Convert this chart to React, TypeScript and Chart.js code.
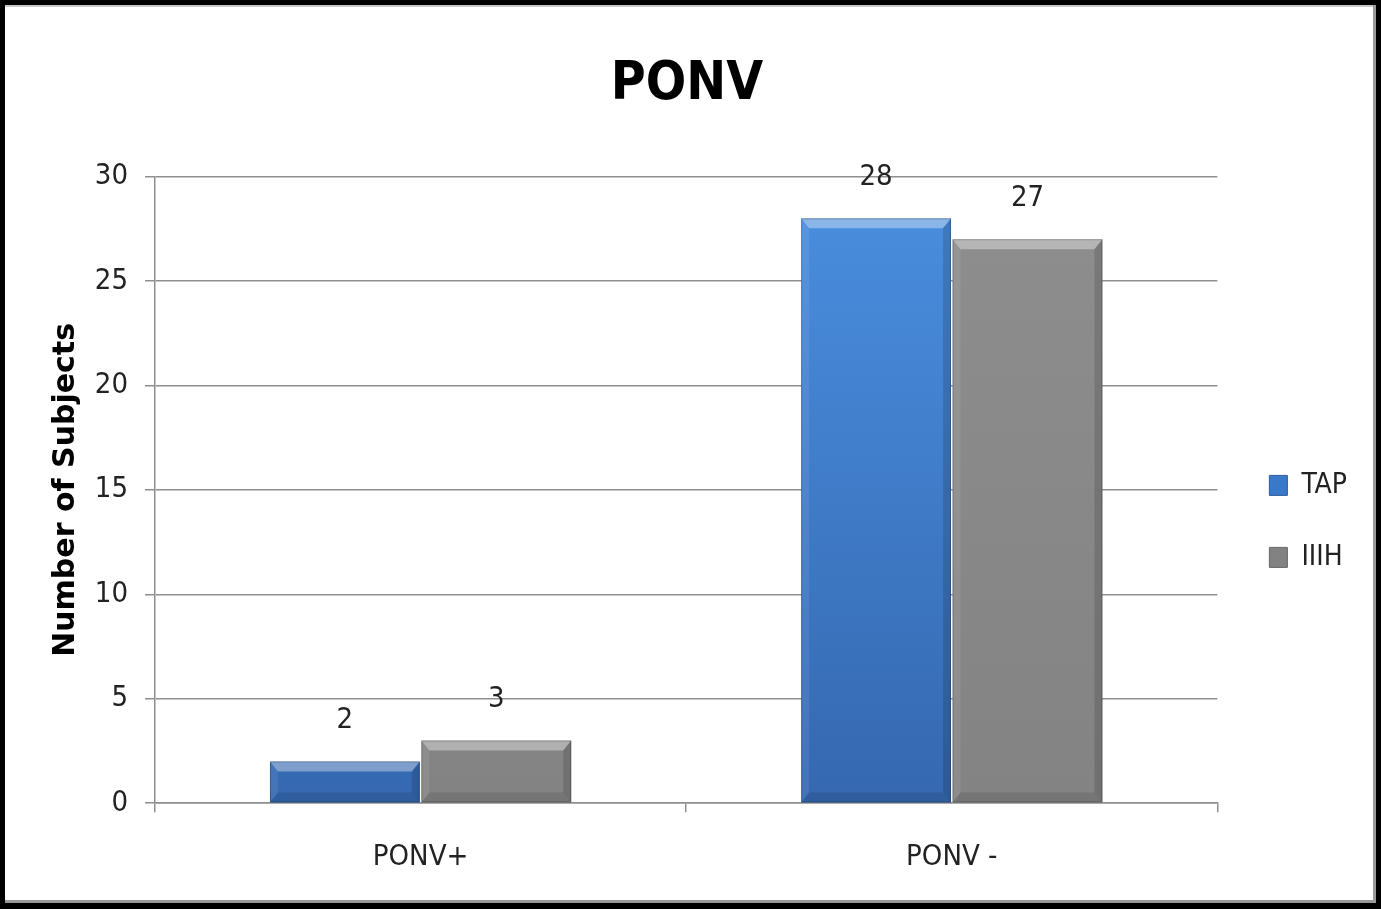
import React, { useEffect, useRef } from "react";
import { Chart, registerables } from "chart.js";

Chart.register(...registerables);

const categories = ["PONV+", "PONV -"];
const tapValues = [2, 28];
const iiihValues = [3, 27];
const seriesNames = ["TAP", "IIIH"];
const yTicks = [0, 5, 10, 15, 20, 25, 30];

const NARROW = '"Liberation Sans Narrow", "DejaVu Sans Condensed", "Liberation Sans", sans-serif';
const GRID = "#8f8f8f";

function faceGradient(top: string, bottom: string, fallback: string) {
  return (ctx: any) => {
    const area = ctx.chart.chartArea;
    if (!area) return fallback;
    const g = ctx.chart.ctx.createLinearGradient(0, area.top, 0, area.bottom);
    g.addColorStop(0, top);
    g.addColorStop(1, bottom);
    return g;
  };
}

// Bevelled edges on every bar, drawn over the bar elements the chart laid out
const bevelPlugin = {
  id: "bevel",
  afterDatasetsDraw(chart: any) {
    const ctx = chart.ctx;
    chart.data.datasets.forEach((_: any, di: number) => {
      const meta = chart.getDatasetMeta(di);
      meta.data.forEach((bar: any) => {
        const { x, y, base, width } = bar.getProps(["x", "y", "base", "width"], true);
        const l = x - width / 2;
        const r = x + width / 2;
        const t = Math.min(y, base);
        const bot = Math.max(y, base);
        const h = bot - t;
        const b = Math.min(8, width / 4);
        const tb = Math.min(10, h / 3);
        const poly = (pts: number[][], fill: string) => {
          ctx.beginPath();
          ctx.moveTo(pts[0][0], pts[0][1]);
          for (let i = 1; i < pts.length; i++) ctx.lineTo(pts[i][0], pts[i][1]);
          ctx.closePath();
          ctx.fillStyle = fill;
          ctx.fill();
        };
        ctx.save();
        poly([[l, t], [r, t], [r - b, t + tb], [l + b, t + tb]], "rgba(255,255,255,0.36)");
        poly([[l, t], [l + b, t + tb], [l + b, bot - tb], [l, bot]], "rgba(255,255,255,0.08)");
        poly([[r, t], [r, bot], [r - b, bot - tb], [r - b, t + tb]], "rgba(0,0,0,0.14)");
        poly([[l, bot], [l + b, bot - tb], [r - b, bot - tb], [r, bot]], "rgba(0,0,0,0.10)");
        ctx.strokeStyle = "rgba(0,0,0,0.22)";
        ctx.lineWidth = 1;
        ctx.strokeRect(l + 0.5, t + 0.5, width - 1, h - 1);
        ctx.restore();
      });
    });
  },
};

// Value labels above each bar
const valueLabelPlugin = {
  id: "valueLabels",
  afterDatasetsDraw(chart: any) {
    const ctx = chart.ctx;
    ctx.save();
    ctx.font = `29px ${NARROW}`;
    ctx.fillStyle = "#222";
    ctx.textAlign = "center";
    ctx.textBaseline = "middle";
    chart.data.datasets.forEach((ds: any, di: number) => {
      const meta = chart.getDatasetMeta(di);
      meta.data.forEach((bar: any, i: number) => {
        const { x, y } = bar.getProps(["x", "y"], true);
        ctx.fillText(String(ds.data[i]), x, y - 41);
      });
    });
    ctx.restore();
  },
};

// Nudge the legend column a little further from the plot
const legendShiftPlugin = {
  id: "legendShift",
  afterLayout(chart: any) {
    const lg = chart.legend;
    if (lg) {
      lg.left += 8;
      lg.right += 8;
    }
  },
};

export default function App() {
  const canvasRef = useRef<HTMLCanvasElement | null>(null);

  useEffect(() => {
    if (!canvasRef.current) return;
    const chart = new Chart(canvasRef.current, {
      type: "bar",
      data: {
        labels: categories,
        datasets: [
          {
            label: seriesNames[0],
            data: tapValues,
            backgroundColor: faceGradient("#4a8fe0", "#3568b0", "#3d7cc9"),
            borderWidth: 0,
            barPercentage: 0.99,
            categoryPercentage: 0.57,
          },
          {
            label: seriesNames[1],
            data: iiihValues,
            backgroundColor: faceGradient("#8e8e8e", "#838383", "#888888"),
            borderWidth: 0,
            barPercentage: 0.99,
            categoryPercentage: 0.57,
          },
        ],
      },
      options: {
        responsive: false,
        animation: false,
        layout: { padding: { left: 20, right: 27, top: 0, bottom: 0 } },
        plugins: {
          title: {
            display: true,
            text: "PONV",
            color: "#000",
            font: { family: NARROW, size: 53, weight: "bold", lineHeight: 1.2 },
            padding: { top: 48, bottom: 60 },
          },
          legend: {
            display: true,
            position: "right",
            align: "center",
            fullSize: false,
            title: { display: true, text: "", font: { size: 10, lineHeight: 1.2 }, padding: { top: 51, bottom: 0 } },
            labels: {
              boxWidth: 18,
              boxHeight: 20,
              padding: 44,
              color: "#222",
              font: { family: NARROW, size: 28 },
              generateLabels: (c: any) =>
                c.data.datasets.map((ds: any, i: number) => ({
                  text: ds.label,
                  fillStyle: i === 0 ? "#3a78c8" : "#828282",
                  strokeStyle: i === 0 ? "#2c5e9e" : "#666666",
                  fontColor: "#222",
                  lineWidth: 1,
                  hidden: false,
                  datasetIndex: i,
                })),
            },
          },
          tooltip: { enabled: false },
        },
        scales: {
          x: {
            offset: true,
            grid: {
              display: true,
              drawOnChartArea: false,
              drawTicks: true,
              tickLength: 9,
              color: GRID,
              lineWidth: 1.5,
              offset: true,
            },
            border: { display: true, color: GRID, width: 1.5 },
            ticks: { color: "#222", font: { family: NARROW, size: 29 }, padding: 28 },
          },
          y: {
            min: 0,
            max: 30,
            afterFit: (scale: any) => {
              scale.width = 130;
            },
            afterBuildTicks: (scale: any) => {
              scale.ticks = yTicks.map((v) => ({ value: v }));
            },
            grid: { color: GRID, lineWidth: 1.5, tickLength: 10, drawTicks: true },
            border: { display: true, color: GRID, width: 1.5 },
            ticks: { color: "#222", font: { family: NARROW, size: 29 }, padding: 17 },
            title: {
              display: true,
              text: "Number of Subjects",
              color: "#000",
              font: { family: '"DejaVu Sans", Verdana, sans-serif', size: 30, weight: "bold", lineHeight: 1.2 },
              padding: { top: 23, bottom: 0 },
            },
          },
        },
      },
      plugins: [bevelPlugin, valueLabelPlugin, legendShiftPlugin],
    } as any);
    return () => chart.destroy();
  }, []);

  return (
    <div
      style={{
        position: "absolute",
        left: 0,
        top: 0,
        width: 1381,
        height: 909,
        boxSizing: "border-box",
        border: "5px solid #000",
        borderBottomWidth: 6,
        background: "#fff",
      }}
    >
      <div
        style={{
          position: "relative",
          width: 1371,
          height: 898,
          boxShadow: "inset -3px -3px 0 0 #9a9a9a, inset 0 2px 0 0 #c8c8c8",
        }}
      >
        <canvas ref={canvasRef} width={1371} height={898} />
      </div>
    </div>
  );
}
